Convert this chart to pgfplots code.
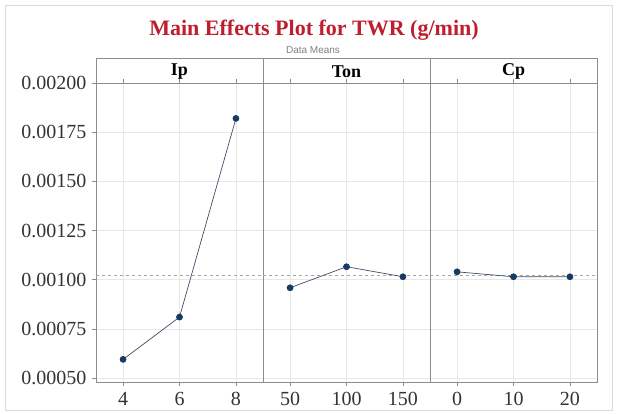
\documentclass[border=0pt]{standalone}
\usepackage{fontspec}
\setmainfont{Liberation Serif}
\setsansfont{Liberation Sans}
\usepackage{pgfplots}
\pgfplotsset{compat=1.18}
\definecolor{titlered}{RGB}{190,30,45}
\definecolor{ptblue}{RGB}{22,58,98}
\definecolor{lineblue}{RGB}{60,80,100}
\definecolor{framegray}{RGB}{140,140,140}
\pgfplotsset{
  panel/.style={
    scale only axis, width=167pt, height=299pt,
    anchor=south west,
    ymin=0.00048, ymax=0.002,
    xmin=-0.48, xmax=2.48,
    xtick={0,1,2},
    ytick={0.0005,0.00075,0.001,0.00125,0.0015,0.00175,0.002},
    grid=major,
    major grid style={gray!18, line width=0.6pt},
    axis line style={framegray, line width=0.8pt},
    tick style={framegray, line width=0.6pt},
    tick align=outside,
    major tick length=4pt,
    ticklabel style={font=\fontsize{20}{22}\selectfont, text=black!80},
    xticklabel style={yshift=-3pt},
    /pgf/number format/assume math mode=true,
    yticklabel style={/pgf/number format/fixed, /pgf/number format/precision=5, /pgf/number format/zerofill, xshift=-2pt},
    scaled y ticks=false,
  },
  pts/.style={color=lineblue, line width=0.7pt, mark=*, mark size=3pt, mark options={fill=ptblue, draw=ptblue}},
  meanl/.style={gray!70, dashed, line width=0.7pt, forget plot},
}
\begin{document}
\begin{tikzpicture}[x=1pt,y=1pt]
\path[use as bounding box] (0pt,0pt) rectangle (617pt,414pt);
\draw[gray!30, line width=0.8pt] (5pt,4pt) rectangle (612pt,409pt);
\node[font=\bfseries\fontsize{22}{24}\selectfont, text=titlered] at (314pt,384pt) {Main Effects Plot for TWR (g/min)};
\node[font=\sffamily\fontsize{10}{11}\selectfont, text=gray] at (313pt,364pt) {Data Means};

% headers
\draw[framegray, line width=0.8pt] (96pt,331pt) rectangle (597pt,356pt);
\draw[framegray, line width=0.8pt] (263pt,331pt) -- (263pt,356pt);
\draw[framegray, line width=0.8pt] (430pt,331pt) -- (430pt,356pt);
\node[font=\bfseries\fontsize{18}{20}\selectfont] at (179.5pt,342.5pt) {Ip};
\node[font=\bfseries\fontsize{18}{20}\selectfont] at (346.5pt,342.5pt) {Ton};
\node[font=\bfseries\fontsize{18}{20}\selectfont] at (513.5pt,342.5pt) {Cp};

\begin{axis}[panel, at={(96pt,32pt)}, xticklabels={4,6,8}]
\addplot[meanl] coordinates {(-0.48,0.001023) (2.48,0.001023)};
\addplot[pts] coordinates {(0,0.000595) (1,0.000810) (2,0.001820)};
\end{axis}

\begin{axis}[panel, at={(263pt,32pt)}, xticklabels={50,100,150}, yticklabels={}, ytick style={draw=none}]
\addplot[meanl] coordinates {(-0.48,0.001023) (2.48,0.001023)};
\addplot[pts] coordinates {(0,0.000959) (1,0.001066) (2,0.001015)};
\end{axis}

\begin{axis}[panel, at={(430pt,32pt)}, xticklabels={0,10,20}, yticklabels={}, ytick style={draw=none}]
\addplot[meanl] coordinates {(-0.48,0.001023) (2.48,0.001023)};
\addplot[pts] coordinates {(0,0.001040) (1,0.001015) (2,0.001015)};
\end{axis}
\end{tikzpicture}
\end{document}
